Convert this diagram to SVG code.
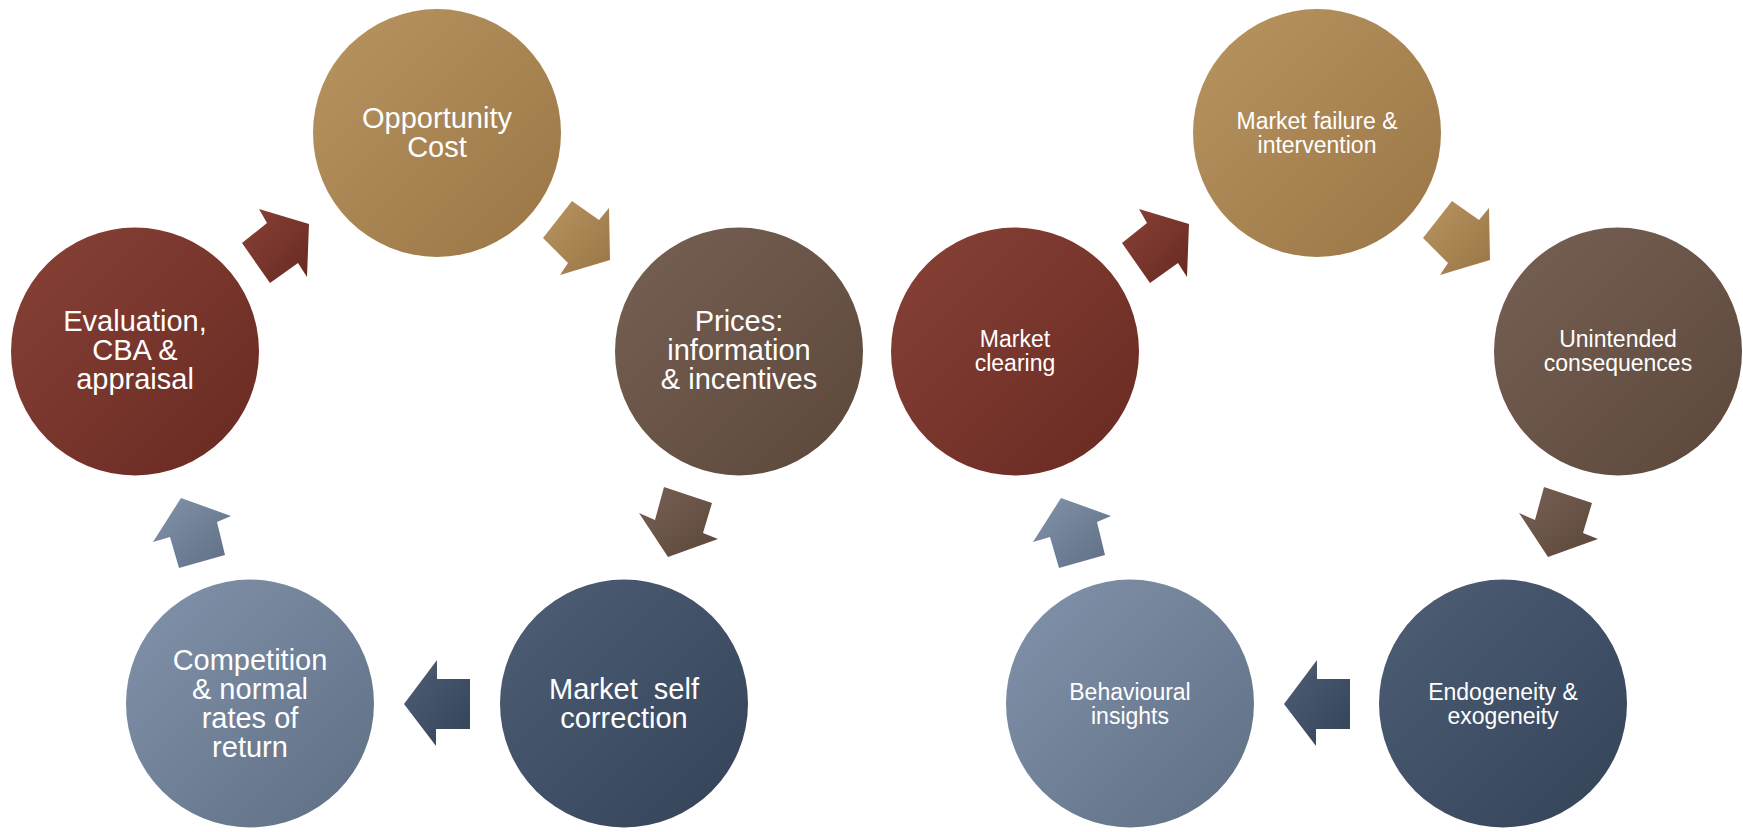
<svg xmlns="http://www.w3.org/2000/svg" width="1743" height="832" viewBox="0 0 1743 832">
  <defs>
    <linearGradient id="gGold" x1="0.1" y1="0.1" x2="0.9" y2="0.9">
      <stop offset="0" stop-color="#B5915E"/>
      <stop offset="1" stop-color="#9D7949"/>
    </linearGradient>
    <linearGradient id="gBrown" x1="0.1" y1="0.1" x2="0.9" y2="0.9">
      <stop offset="0" stop-color="#745E51"/>
      <stop offset="1" stop-color="#5E4A3D"/>
    </linearGradient>
    <linearGradient id="gRed" x1="0.1" y1="0.1" x2="0.9" y2="0.9">
      <stop offset="0" stop-color="#853F35"/>
      <stop offset="1" stop-color="#6B2C23"/>
    </linearGradient>
    <linearGradient id="gNavy" x1="0.1" y1="0.1" x2="0.9" y2="0.9">
      <stop offset="0" stop-color="#4B5C73"/>
      <stop offset="1" stop-color="#36455A"/>
    </linearGradient>
    <linearGradient id="gSlate" x1="0.1" y1="0.1" x2="0.9" y2="0.9">
      <stop offset="0" stop-color="#7E8FA7"/>
      <stop offset="1" stop-color="#627388"/>
    </linearGradient>
  </defs>
  <style>
    .gold { fill: url(#gGold); }
    .brown { fill: url(#gBrown); }
    .red { fill: url(#gRed); }
    .navy { fill: url(#gNavy); }
    .slate { fill: url(#gSlate); }
    text { font-family: "Liberation Sans", Arial, sans-serif; fill: #FFFFFF; text-anchor: middle; }
    .big { font-size: 29px; }
    .small { font-size: 23px; }
  </style>
  <rect x="0" y="0" width="1743" height="832" fill="#FFFFFF"/>

  <!-- connectors: block arrows between the stages of each cycle -->
  <g id="connectors">
    <polygon class="red" points="259,209 309,224 307,277 298,263 270,283 242,243 267,223"/>
    <polygon class="gold" points="572,201 599,220 609,208 610,260 560,275 568,263 543,238"/>
    <polygon class="brown" points="664,487 712,503 703,533 718,539 668,557 639,513 655,520"/>
    <polygon class="navy" points="470,679 437,679 437,660 404,704 436,746 436,729 470,729"/>
    <polygon class="slate" points="181,498 231,516 217,522 225,555 179,568 170,537 153,542"/>

    <polygon class="red" points="1139,209 1189,224 1187,277 1178,263 1150,283 1122,243 1147,223"/>
    <polygon class="gold" points="1452,201 1479,220 1489,208 1490,260 1440,275 1448,263 1423,238"/>
    <polygon class="brown" points="1544,487 1592,503 1583,533 1598,539 1548,557 1519,513 1535,520"/>
    <polygon class="navy" points="1350,679 1317,679 1317,660 1284,704 1316,746 1316,729 1350,729"/>
    <polygon class="slate" points="1061,498 1111,516 1097,522 1105,555 1059,568 1050,537 1033,542"/>
  </g>

  <!-- left cycle -->
  <g id="opportunity-cost">
    <circle class="gold" cx="437" cy="133" r="124"/>
    <text class="big" x="437" y="128">Opportunity</text>
    <text class="big" x="437" y="157">Cost</text>
  </g>
  <g id="prices">
    <circle class="brown" cx="739" cy="351.5" r="124"/>
    <text class="big" x="739" y="331">Prices:</text>
    <text class="big" x="739" y="360">information</text>
    <text class="big" x="739" y="389">&amp; incentives</text>
  </g>
  <g id="market-self-correction">
    <circle class="navy" cx="624" cy="703.5" r="124"/>
    <text class="big" x="624" y="699" xml:space="preserve">Market  self</text>
    <text class="big" x="624" y="728">correction</text>
  </g>
  <g id="competition">
    <circle class="slate" cx="250" cy="703.5" r="124"/>
    <text class="big" x="250" y="670">Competition</text>
    <text class="big" x="250" y="699">&amp; normal</text>
    <text class="big" x="250" y="728">rates of</text>
    <text class="big" x="250" y="757">return</text>
  </g>
  <g id="evaluation">
    <circle class="red" cx="135" cy="351.5" r="124"/>
    <text class="big" x="135" y="331">Evaluation,</text>
    <text class="big" x="135" y="360">CBA &amp;</text>
    <text class="big" x="135" y="389">appraisal</text>
  </g>

  <!-- right cycle -->
  <g id="market-failure">
    <circle class="gold" cx="1317" cy="133" r="124"/>
    <text class="small" x="1317" y="128.5">Market failure &amp;</text>
    <text class="small" x="1317" y="152.5">intervention</text>
  </g>
  <g id="unintended-consequences">
    <circle class="brown" cx="1618" cy="351.5" r="124"/>
    <text class="small" x="1618" y="346.5">Unintended</text>
    <text class="small" x="1618" y="370.5">consequences</text>
  </g>
  <g id="endogeneity">
    <circle class="navy" cx="1503" cy="703.5" r="124"/>
    <text class="small" x="1503" y="699.5">Endogeneity &amp;</text>
    <text class="small" x="1503" y="723.5">exogeneity</text>
  </g>
  <g id="behavioural-insights">
    <circle class="slate" cx="1130" cy="703.5" r="124"/>
    <text class="small" x="1130" y="699.5">Behavioural</text>
    <text class="small" x="1130" y="723.5">insights</text>
  </g>
  <g id="market-clearing">
    <circle class="red" cx="1015" cy="351.5" r="124"/>
    <text class="small" x="1015" y="346.5">Market</text>
    <text class="small" x="1015" y="370.5">clearing</text>
  </g>
</svg>
